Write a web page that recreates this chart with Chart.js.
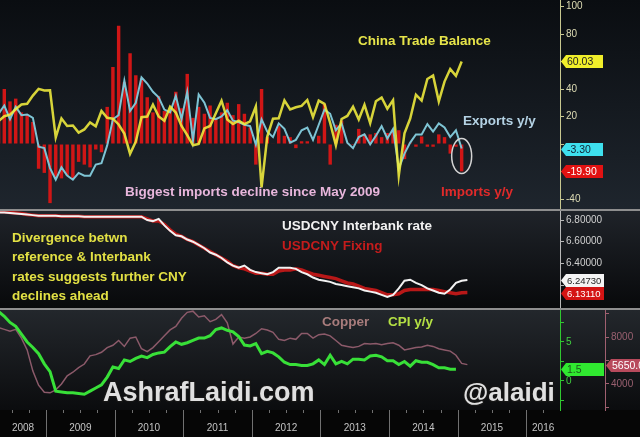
<!DOCTYPE html>
<html>
<head>
<meta charset="utf-8">
<script src="https://cdn.jsdelivr.net/npm/chart.js@4.4.1/dist/chart.umd.min.js"></script>
<style>
html,body{margin:0;padding:0;background:#000;overflow:hidden}
#wrap{position:relative;width:640px;height:437px;background:#060606}
.bg{position:absolute;left:0;width:640px}
canvas{position:absolute;left:0}
</style>
</head>
<body>
<div id="wrap">
  <div class="bg" style="top:0;height:209px;background:linear-gradient(#0a0d11,#1e252d)"></div>
  <div class="bg" style="top:209px;height:2px;background:#8e8e8e"></div>
  <div class="bg" style="top:211px;height:97px;background:linear-gradient(#1f2329,#08090b)"></div>
  <div class="bg" style="top:308px;height:2px;background:#8e8e8e"></div>
  <div class="bg" style="top:310px;height:100px;background:linear-gradient(#23272c,#0b0c0e)"></div>
  <canvas id="c1" width="640" height="209" style="top:0"></canvas>
  <canvas id="c2" width="640" height="97" style="top:211px"></canvas>
  <canvas id="c3" width="640" height="127" style="top:310px"></canvas>
</div>
<script>
// months counted from Jan 2008; every series starts in April 2008
const FIRST_MONTH = 3;
const years = ['2008','2009','2010','2011','2012','2013','2014','2015','2016'];

// China imports y/y %, Apr 2008 - Jan 2015
const importsYoY = [26,40,31,33,23,21,16,-18,-21,
  -43,-24,-25,-23,-25,-13,-15,-17,-4,-6,27,56,
  86,45,66,50,48,34,23,35,24,25,38,26,
  51,19,27,22,28,19,23,30,21,29,22,12,
  -15,40,5,0.3,13,6,5,-3,2,2,0,6,
  29,-15,14,17,-0.3,-0.7,11,7,7,8,5,8,
  10,10,-11,1,-2,5.5,-2,-2,7,5,-7,-2,
  -19.9];
// China exports y/y %
const exportsYoY = [22,28,18,27,21,21.5,19,-2,-3,
  -17.5,-26,-17,-23,-26,-21,-23,-23,-15,-14,-1,18,
  21,46,24,30,48.5,44,38,34,25,23,35,18,
  38,2.4,36,30,19,18,20,24.5,17,16,14,13,
  -0.5,18,9,5,15,11,1,3,10,12,3,14,
  25,22,10,15,1,-3,5,7,-0.3,6,13,4,
  11,-18,-7,1,7,7,14.5,9,15,12,5,10,
  -3.3];
// China trade balance, USD bn
const tradeBalance = [16.7,20.2,21.4,25.3,28.7,29.3,35.2,40.1,39,
  39.1,4.8,18.6,13.1,13.4,8.3,10.6,15.7,12.9,24,19.1,18.4,
  14.2,7.6,-7.2,1.7,19.5,20,28.7,20,16.9,27.1,22.9,13.1,
  6.5,-0.9,0.1,11.4,13.1,22.3,31.5,17.8,14.5,17,14.5,16.5,
  27.3,-31.5,5.4,18.4,18.7,31.7,25.1,26.7,27.7,32,19.6,31.6,
  29.2,15.3,-0.9,18.2,20.4,27.1,17.8,28.5,15.2,31.1,33.8,25.6,
  31.9,-23,7.7,18.5,35.9,31.6,47.3,49.8,31,45.4,54.5,49.6,
  60.03];
// USDCNY, Apr 2008 - Feb 2015
const usdcnyInterbank = [6.87,6.87,6.865,6.86,6.855,6.85,6.845,6.84,6.84,
  6.84,6.84,6.835,6.835,6.835,6.835,6.83,6.83,6.83,6.83,6.83,6.83,
  6.83,6.83,6.83,6.83,6.83,6.80,6.79,6.81,6.75,6.70,6.66,6.65,
  6.62,6.60,6.57,6.54,6.50,6.48,6.45,6.41,6.38,6.36,6.38,6.34,
  6.32,6.31,6.30,6.32,6.36,6.36,6.36,6.35,6.32,6.30,6.27,6.25,
  6.24,6.23,6.21,6.20,6.19,6.18,6.17,6.15,6.14,6.13,6.11,6.09,
  6.11,6.17,6.24,6.25,6.22,6.20,6.17,6.15,6.13,6.12,6.16,6.22,
  6.24,6.2473];
const usdcnyFixing = [6.88,6.875,6.87,6.865,6.86,6.85,6.845,6.84,6.84,
  6.84,6.84,6.835,6.835,6.835,6.835,6.83,6.83,6.83,6.83,6.83,6.83,
  6.83,6.83,6.83,6.83,6.83,6.81,6.79,6.79,6.76,6.71,6.67,6.65,
  6.62,6.60,6.57,6.54,6.51,6.48,6.45,6.42,6.38,6.36,6.35,6.33,
  6.31,6.31,6.30,6.30,6.33,6.34,6.34,6.35,6.34,6.32,6.30,6.29,
  6.28,6.27,6.26,6.24,6.22,6.21,6.19,6.17,6.16,6.15,6.13,6.11,
  6.11,6.12,6.15,6.16,6.16,6.16,6.16,6.16,6.15,6.14,6.13,6.12,
  6.13,6.1311];
// China CPI y/y %, Apr 2008 - Dec 2014
const cpiYoY = [8.9,8.3,7.5,7.0,6.0,5.0,4.3,3.5,2.2,
  1.2,-1.3,-1.4,-1.5,-1.5,-1.6,-1.7,-1.3,-0.9,-0.5,0.5,1.8,
  1.6,2.7,2.5,2.9,3.2,3.0,3.4,3.6,3.7,4.4,5.0,4.7,
  4.9,5.2,5.5,5.5,5.8,6.6,6.8,6.5,6.3,5.7,4.6,4.5,
  4.8,3.5,3.8,3.6,3.1,2.4,2.1,2.1,2.0,2.0,2.2,2.7,
  2.1,3.3,2.2,2.5,2.2,2.8,2.8,2.7,3.2,3.3,3.1,2.6,
  2.6,2.1,2.5,1.9,2.6,2.4,2.4,2.1,1.7,1.7,1.5,1.5];
// Copper, USD/t, Apr 2008 - Feb 2015
const copper = [8800,8650,8500,8650,7900,6900,5100,3900,3300,
  3250,3500,4000,4700,5000,5400,5700,6400,6500,6700,7100,7300,
  7700,7200,7900,8000,7000,6750,7100,7600,8100,8600,8900,9600,
  10100,10200,9700,9800,9300,9500,9900,9200,7400,8000,7900,8000,
  8300,8700,8600,8400,7800,7700,7900,7800,8300,8300,7900,8200,
  8250,8100,7700,7300,7200,7100,7200,7450,7400,7450,7350,7450,
  7500,7300,6900,7000,7100,7150,7300,7200,7000,6900,6800,6450,
  5750,5650];

const topTicks = [100,80,60,40,20,0,-20,-40];
const topLabels = [100,80,40,20,-40];
const fxTicks = [6.8,6.6,6.4,6.2];
const cpiTicks = [7.5,5,2.5,0,-2.5];
const cpiLabels = [5,0];
const copperTicks = [10000,8000,6000,4000,2000];
const copperLabels = [8000,4000];

const FONT = '"Liberation Sans", Arial, sans-serif';
const X_MIN = 3.95, X_MAX = 101.9;
const monthX = k => FIRST_MONTH + k + 0.7;
const pts = arr => arr.map((v, k) => ({x: monthX(k), y: v}));
const last = arr => arr[arr.length - 1];
const only = list => v => (list.includes(v) ? String(v) : '');

const fitAxis = w => s => { s.width = w; s.paddingTop = 0; s.paddingBottom = 0; };
const setTicks = list => s => { s.ticks = list.map(v => ({value: v})); };
const hiddenX = {type: 'linear', min: X_MIN, max: X_MAX, display: false, offset: false};
const common = {
  responsive: false, animation: false, events: [],
  layout: {padding: 0},
  plugins: {legend: {display: false}, tooltip: {enabled: false}}
};
function rightAxis(min, max, ticks, width, color, labelColor, fmt, extra) {
  return Object.assign({
    position: 'right', min, max,
    afterBuildTicks: setTicks(ticks), afterFit: fitAxis(width),
    grid: {drawOnChartArea: false, tickLength: 4, color},
    border: {color, width: 1},
    ticks: {color: labelColor, padding: 2, font: {size: 10, family: FONT}, callback: fmt}
  }, extra || {});
}

// arrow-shaped last-value tags on the right axis
function drawTags(chart, tags) {
  const ctx = chart.ctx;
  tags.forEach(t => {
    const sc = chart.scales[t.axis];
    const y = Math.round(sc.getPixelForValue(t.value)) + 0.5;
    const x0 = sc.left + 1, x1 = x0 + t.w;
    ctx.save();
    ctx.fillStyle = t.bg;
    ctx.beginPath();
    ctx.moveTo(x0, y);
    ctx.lineTo(x0 + 5, y - 6.5);
    ctx.lineTo(x1, y - 6.5);
    ctx.lineTo(x1, y + 6.5);
    ctx.lineTo(x0 + 5, y + 6.5);
    ctx.closePath();
    ctx.fill();
    ctx.fillStyle = t.fg;
    ctx.font = (t.size || 10.5) + 'px ' + FONT;
    ctx.textBaseline = 'middle';
    ctx.fillText(t.text, x0 + 6, y + 0.5);
    ctx.restore();
  });
}
function drawTexts(ctx, list) {
  list.forEach(t => {
    ctx.save();
    ctx.font = (t.font || 'bold 13.5px ') + FONT;
    ctx.textBaseline = t.base || 'middle';
    if (t.stroke) {
      ctx.lineWidth = 3; ctx.strokeStyle = t.stroke; ctx.lineJoin = 'round';
      ctx.strokeText(t.text, t.x, t.y);
    }
    ctx.fillStyle = t.color;
    ctx.fillText(t.text, t.x, t.y);
    ctx.restore();
  });
}

// ---- panel 1: trade ----
new Chart(document.getElementById('c1'), {
  type: 'bar',
  data: {datasets: [
    {type: 'line', data: pts(tradeBalance), borderColor: 'rgba(242,238,62,0.88)', borderWidth: 2.5, pointRadius: 0, order: 1},
    {type: 'line', data: pts(exportsYoY), borderColor: '#7ec4d4', borderWidth: 2, pointRadius: 0, order: 2},
    {type: 'bar', data: pts(importsYoY), backgroundColor: '#d01616', barPercentage: 0.6, categoryPercentage: 1, order: 3}
  ]},
  options: Object.assign({}, common, {
    scales: {
      x: hiddenX,
      y: rightAxis(-47.27, 104.73, topTicks, 80, '#c8c890', '#dedcb4', only(topLabels))
    }
  }),
  plugins: [{id: 'notes1', afterDraw(chart) {
    const ctx = chart.ctx, xs = chart.scales.x, ys = chart.scales.y;
    // circle round the last imports bar
    const cx = xs.getPixelForValue(monthX(importsYoY.length - 1));
    const top = ys.getPixelForValue(4), bot = ys.getPixelForValue(last(importsYoY) - 1.5);
    ctx.save();
    ctx.strokeStyle = '#d4d4d4'; ctx.lineWidth = 1.5;
    ctx.beginPath();
    ctx.ellipse(cx, (top + bot) / 2, 10, (bot - top) / 2, 0, 0, Math.PI * 2);
    ctx.stroke();
    ctx.restore();
    drawTexts(ctx, [
      {text: 'China Trade Balance', x: 358, y: 41, color: '#e6e44a'},
      {text: 'Exports y/y', x: 463, y: 121, color: '#b4d2e4'},
      {text: 'Imports y/y', x: 441, y: 192, color: '#e02a2a'},
      {text: 'Biggest imports decline since May 2009', x: 125, y: 192, color: '#e8b6dc'}
    ]);
    drawTags(chart, [
      {axis: 'y', value: last(tradeBalance), text: last(tradeBalance).toFixed(2), bg: '#f0ee2a', fg: '#222', w: 42},
      {axis: 'y', value: last(exportsYoY), text: last(exportsYoY).toFixed(2), bg: '#3ee0ee', fg: '#123', w: 42},
      {axis: 'y', value: last(importsYoY), text: last(importsYoY).toFixed(2), bg: '#e21212', fg: '#fff', w: 42}
    ]);
  }}]
});

// ---- panel 2: USDCNY ----
new Chart(document.getElementById('c2'), {
  type: 'line',
  data: {datasets: [
    {data: pts(usdcnyInterbank), borderColor: '#f2f2f2', borderWidth: 2, pointRadius: 0, order: 1},
    {data: pts(usdcnyFixing), borderColor: '#b81818', borderWidth: 3.5, pointRadius: 0, order: 2}
  ]},
  options: Object.assign({}, common, {
    scales: {
      x: hiddenX,
      y: rightAxis(5.989, 6.883, fxTicks, 80, '#b8b8b8', '#d0d0d0', v => v.toFixed(5))
    }
  }),
  plugins: [{id: 'notes2', afterDraw(chart) {
    drawTexts(chart.ctx, [
      {text: 'USDCNY Interbank rate', x: 282, y: 15, color: '#f2f2f2'},
      {text: 'USDCNY Fixing', x: 282, y: 35, color: '#c41c1c'},
      {text: 'Divergence betwn', x: 12, y: 27, color: '#e2e044'},
      {text: 'reference & Interbank', x: 12, y: 46, color: '#e2e044'},
      {text: 'rates suggests further CNY', x: 12, y: 66, color: '#e2e044'},
      {text: 'declines ahead', x: 12, y: 85, color: '#e2e044'}
    ]);
    drawTags(chart, [
      {axis: 'y', value: last(usdcnyInterbank), text: last(usdcnyInterbank).toFixed(5), bg: '#f4f4f4', fg: '#222', w: 43, size: 9.5},
      {axis: 'y', value: last(usdcnyFixing), text: last(usdcnyFixing).toFixed(5), bg: '#d41414', fg: '#fff', w: 43, size: 9.5}
    ]);
  }}]
});

// ---- panel 3: copper & CPI ----
new Chart(document.getElementById('c3'), {
  type: 'line',
  data: {datasets: [
    {data: pts(cpiYoY), yAxisID: 'yCpi', borderColor: '#38e038', borderWidth: 3, pointRadius: 0, order: 1},
    {data: pts(copper), yAxisID: 'yCu', borderColor: '#8c5a6a', borderWidth: 1.5, pointRadius: 0, order: 2}
  ]},
  options: Object.assign({}, common, {
    scales: {
      x: {
        type: 'linear', min: X_MIN, max: X_MAX, position: 'bottom', offset: false,
        afterBuildTicks: s => {
          s.ticks = years.map((y, k) => ({value: (Math.max(k * 12, s.min) + Math.min(k * 12 + 12, s.max)) / 2}));
        },
        afterFit: s => { s.height = 27; s.paddingLeft = 0; s.paddingRight = 0; },
        grid: {display: false, drawTicks: false},
        border: {display: false},
        ticks: {autoSkip: false, maxRotation: 0, color: '#c4c4c4', padding: 12,
          font: {size: 10, family: FONT}, callback: (v, i) => years[i]}
      },
      yCpi: rightAxis(-3.72, 9.10, cpiTicks, 45, '#30c830', '#40d040', only(cpiLabels), {weight: 0}),
      yCu: rightAxis(1787, 10298, copperTicks, 35, '#a06070', '#9a6070', only(copperLabels), {weight: 1})
    }
  }),
  plugins: [{id: 'notes3', afterDraw(chart) {
    const ctx = chart.ctx, xs = chart.scales.x, area = chart.chartArea;
    ctx.save();
    ctx.strokeStyle = '#707070'; ctx.lineWidth = 1;
    for (let m = 0; m <= 108; m += 3) {
      const x = Math.round(xs.getPixelForValue(m)) + 0.5;
      if (x < area.left || x > area.right) continue;
      ctx.beginPath();
      ctx.moveTo(x, area.bottom);
      ctx.lineTo(x, m % 12 === 0 ? chart.height : area.bottom + 3);
      ctx.stroke();
    }
    ctx.restore();
    drawTexts(ctx, [
      {text: 'Copper', x: 322, y: 12, color: '#a87c7c'},
      {text: 'CPI y/y', x: 388, y: 12, color: '#b4e044'},
      {text: 'AshrafLaidi.com', x: 103, y: 91, color: '#e0e0e0', font: 'bold 27px ', base: 'alphabetic', stroke: '#151515'},
      {text: '@alaidi', x: 463, y: 91, color: '#e0e0e0', font: 'bold 26px ', base: 'alphabetic', stroke: '#151515'}
    ]);
    drawTags(chart, [
      {axis: 'yCpi', value: last(cpiYoY), text: last(cpiYoY).toFixed(1), bg: '#30e830', fg: '#1a5a1a', w: 43},
      {axis: 'yCu', value: last(copper), text: last(copper).toFixed(1), bg: '#b84a5c', fg: '#fff', w: 40}
    ]);
  }}]
});
</script>
</body>
</html>
